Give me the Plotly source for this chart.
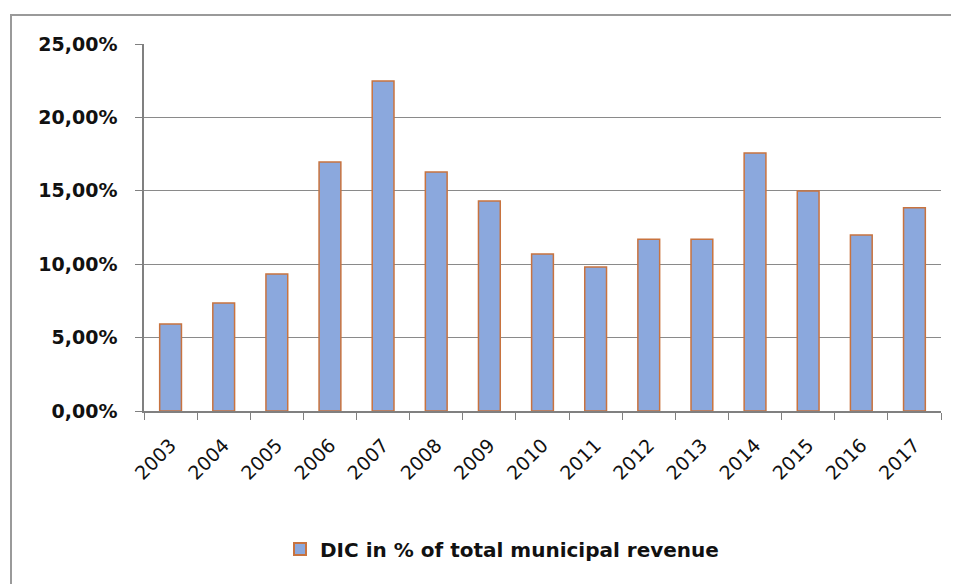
import plotly.graph_objects as go

years = ["2003", "2004", "2005", "2006", "2007", "2008", "2009", "2010",
         "2011", "2012", "2013", "2014", "2015", "2016", "2017"]
dic_share = [0.0593, 0.0736, 0.0933, 0.1696, 0.2248, 0.1628, 0.1430, 0.1069,
             0.0981, 0.1170, 0.1170, 0.1757, 0.1499, 0.1199, 0.1385]
y_ticks = [0, 0.05, 0.10, 0.15, 0.20, 0.25]
series_name = "DIC in % of total municipal revenue"

OFF = 8  # page body margin
W, H = 959 - OFF, 584 - OFF
L, R, T, B = 144 - OFF, 18, 44 - OFF, 173
pw, ph = W - L - R, H - T - B

fig = go.Figure()
fig.add_trace(go.Bar(
    x=years, y=dic_share, name=series_name,
    marker=dict(color="#8BA8DD", line=dict(color="#C8733F", width=1.5)),
    width=0.41,
))

def px_x(p):
    return (p - OFF - L) / pw

def px_y(p):
    return (H - B - (p - OFF)) / ph

fig.add_shape(type="rect", xref="paper", yref="paper",
              x0=px_x(11), x1=px_x(975), y0=px_y(15), y1=px_y(600),
              line=dict(color="#9A9A9A", width=2), fillcolor="rgba(0,0,0,0)",
              layer="below")

fig.update_layout(
    width=W, height=H,
    margin=dict(l=L, r=R, t=T, b=B),
    paper_bgcolor="white", plot_bgcolor="white",
    separators=", ",
    font=dict(family="DejaVu Sans", color="#111111"),
    showlegend=True,
    legend=dict(orientation="h", x=px_x(280), xanchor="left", y=px_y(549), yanchor="middle",
                font=dict(size=20, family="DejaVu Sans", weight="bold"),
                itemwidth=30, itemsizing="constant"),
    xaxis=dict(
        type="category", tickangle=-45, tickfont=dict(size=19),
        showline=True, linecolor="#808080", linewidth=1.5,
        ticks="outside", ticklen=7, tickcolor="#808080", tickson="boundaries",
        showgrid=False, ticklabelstandoff=14,
    ),
    yaxis=dict(
        range=[0, 0.25], tickvals=y_ticks, tickformat=".2%",
        tickfont=dict(size=19, family="DejaVu Sans", weight="bold"),
        showline=True, linecolor="#808080", linewidth=1.5,
        ticks="outside", ticklen=7, tickcolor="#808080",
        showgrid=True, gridcolor="#8A8A8A", gridwidth=1.2,
        zeroline=False, ticklabelstandoff=14,
    ),
)

fig.write_html("out.html")
